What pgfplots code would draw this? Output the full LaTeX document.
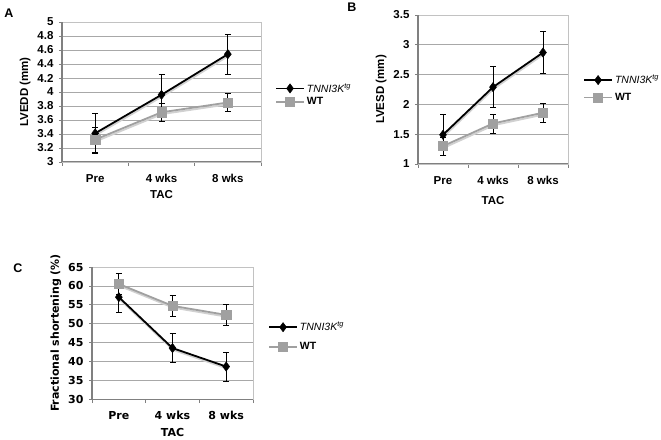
\documentclass[border=0pt]{standalone}
\usepackage{fontspec}
\setmainfont{Liberation Sans}
\newfontfamily\dejavu{DejaVu Sans}
\usepackage{pgfplots}
\pgfplotsset{compat=1.18}
\definecolor{wtgray}{HTML}{A0A0A0}
\definecolor{gridgray}{HTML}{A8A8A8}
\definecolor{axgray}{HTML}{808080}
\pgfplotsset{
  panel/.style={
    scale only axis,
    anchor=south west,
    xmin=-0.5, xmax=2.5,
    xtick={0,1,2},
    xticklabels={Pre,4 wks,8 wks},
    major x tick style={draw=none},
    minor xtick={-0.5,0.5,1.5,2.5},
    minor tick length=4pt,
    minor x tick style={draw=axgray,line width=0.6pt},
    tick align=outside,
    xtick pos=bottom, ytick pos=left,
    major tick length=3pt,
    major y tick style={draw=axgray,line width=0.6pt},
    ymajorgrids,
    major grid style={draw=gridgray,line width=0.7pt},
    axis line style={draw=gridgray!70,line width=0.6pt},
    /pgf/number format/assume math mode=true,
    yticklabel style={/pgf/number format/fixed,xshift=-2pt},
    xticklabel style={yshift=-6pt},
    ticklabel style={font=\bfseries\fontsize{11.5}{13}\selectfont},
    label style={font=\bfseries\fontsize{11.5}{13}\selectfont},
    xlabel={TAC},
    xlabel style={yshift=-1pt},
    error bars/error bar style={black,line width=0.7pt},
    error bars/error mark options={rotate=90,mark size=3pt,black,line width=0.7pt},
    legend cell align=left,
    legend image code/.code={\draw[mark repeat=2,mark phase=2,#1] plot coordinates {(0pt,0pt) (14pt,0pt) (28pt,0pt)};},
    clip=false,
  },
  tnni/.style={black,line width=1.8pt,mark=diamond*,mark size=4.6pt,mark options={black,solid,line width=0.5pt}},
  wt/.style={wtgray,line width=1.8pt,mark=square*,mark size=4.6pt,mark options={wtgray,solid,line width=0.5pt}},
  shadow/.style={forget plot,draw=black!18,line width=1.8pt,no marks,yshift=-1.8pt,xshift=0.5pt},
}
\newcommand{\frameaxes}{%
  \draw[axgray,line width=1.4pt] (rel axis cs:0,0) -- (rel axis cs:0,1);
  \draw[axgray,line width=1pt] (rel axis cs:0,0) -- (rel axis cs:1,0);
}
\begin{document}
\begin{tikzpicture}
\useasboundingbox (0pt,0pt) rectangle (661pt,439pt);
% Panel A
\begin{axis}[panel, at={(62pt,277pt)}, width=199pt, height=140pt,
  ymin=3, ymax=5, ytick={3,3.2,...,5.01},
  ylabel={LVEDD (mm)},
  legend style={at={(1.07,0.48)},anchor=west,draw=none,fill=none,font=\fontsize{10.5}{12}\selectfont,row sep=0pt,inner sep=0pt}]
\addplot[shadow] coordinates {(0,3.41) (1,3.96) (2,4.54)};
\addplot[shadow] coordinates {(0,3.32) (1,3.71) (2,3.85)};
\addplot[tnni, error bars/.cd, y dir=both, y explicit] coordinates {(0,3.41) +- (0,0.29) (1,3.96) +- (0,0.29) (2,4.54) +- (0,0.29)};
\addlegendentry{\textit{TNNI3K\textsuperscript{tg}}}
\addplot[wt, error bars/.cd, y dir=both, y explicit] coordinates {(0,3.32) +- (0,0.18) (1,3.71) +- (0,0.13) (2,3.85) +- (0,0.13)};
\addlegendentry{\textbf{WT}}
\frameaxes
\end{axis}
% Panel B
\begin{axis}[panel, at={(418pt,275pt)}, width=150pt, height=149pt,
  ymin=1, ymax=3.5, ytick={1,1.5,...,3.51},
  ylabel={LVESD (mm)},
  xlabel style={yshift=-4pt},
  legend style={at={(1.10,0.507)},anchor=west,draw=none,fill=none,font=\fontsize{10.5}{12}\selectfont,row sep=4pt,inner sep=0pt}]
\addplot[shadow] coordinates {(0,1.49) (1,2.29) (2,2.87)};
\addplot[shadow] coordinates {(0,1.30) (1,1.68) (2,1.86)};
\addplot[tnni, error bars/.cd, y dir=both, y explicit] coordinates {(0,1.49) +- (0,0.34) (1,2.29) +- (0,0.34) (2,2.87) +- (0,0.35)};
\addlegendentry{\textit{TNNI3K\textsuperscript{tg}}}
\addplot[wt, error bars/.cd, y dir=both, y explicit] coordinates {(0,1.30) +- (0,0.15) (1,1.68) +- (0,0.16) (2,1.86) +- (0,0.16)};
\addlegendentry{\textbf{WT}}
\frameaxes
\end{axis}
% Panel C
\begin{axis}[panel, at={(92pt,40pt)}, width=161pt, height=132pt,
  ymin=30, ymax=65, ytick={30,35,...,65},
  ylabel={Fractional shortening (\%)},
  xlabel style={yshift=0pt},
  ticklabel style={font=\dejavu\bfseries\fontsize{11}{13}\selectfont},
  label style={font=\dejavu\bfseries\fontsize{11}{13}\selectfont},
  legend style={at={(1.093,0.473)},anchor=west,draw=none,fill=none,font=\fontsize{10.5}{12}\selectfont,row sep=6pt,inner sep=0pt}]
\addplot[shadow] coordinates {(0,57.0) (1,43.5) (2,38.6)};
\addplot[shadow] coordinates {(0,60.5) (1,54.7) (2,52.3)};
\addplot[tnni, error bars/.cd, y dir=both, y explicit] coordinates {(0,57.0) +- (0,4.0) (1,43.5) +- (0,3.9) (2,38.6) +- (0,3.9)};
\addlegendentry{\textit{TNNI3K\textsuperscript{tg}}}
\addplot[wt, error bars/.cd, y dir=both, y explicit] coordinates {(0,60.5) +- (0,2.8) (1,54.7) +- (0,2.7) (2,52.3) +- (0,2.7)};
\addlegendentry{\textbf{WT}}
\frameaxes
\end{axis}
% Panel letters
\node[font=\bfseries\fontsize{12.5}{14}\selectfont] at (9pt,426pt) {A};
\node[font=\bfseries\fontsize{12.5}{14}\selectfont] at (352pt,432pt) {B};
\node[font=\bfseries\fontsize{12.5}{14}\selectfont] at (18pt,171pt) {C};
\end{tikzpicture}
\end{document}
